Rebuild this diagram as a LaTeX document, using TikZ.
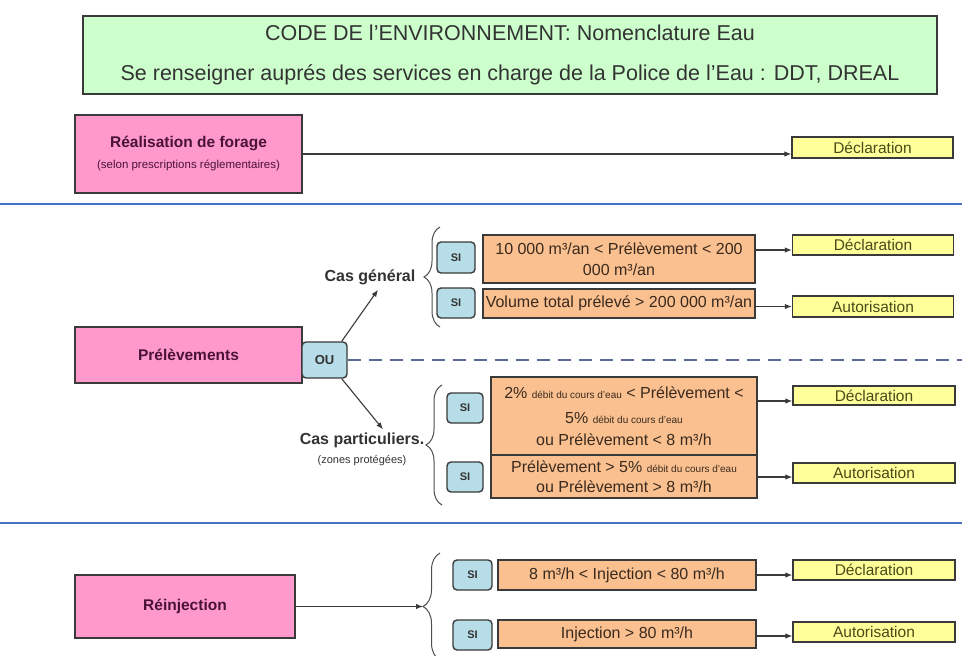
\documentclass[tikz,border=0pt]{standalone}
\usepackage{fontspec}
\setmainfont{Liberation Sans}
\usetikzlibrary{arrows.meta,decorations.pathreplacing,calc}

\definecolor{boxline}{HTML}{3A3A3A}
\definecolor{greenfill}{HTML}{CCFFCC}
\definecolor{pinkfill}{HTML}{FF99CC}
\definecolor{pinktext}{HTML}{4A1238}
\definecolor{sifill}{HTML}{B7DDE8}
\definecolor{orangefill}{HTML}{FAC090}
\definecolor{condtext}{HTML}{3A2A1E}
\definecolor{yellowfill}{HTML}{FFFF99}
\definecolor{restext}{HTML}{4A4A1A}
\definecolor{sepblue}{HTML}{4472C4}
\definecolor{dashblue}{HTML}{5A6A96}
\definecolor{darktext}{HTML}{333333}

\newcommand{\setfs}[2]{\fontsize{#1}{#2}\selectfont}
\newcommand{\sml}[1]{{\setfs{10}{11}#1}}

\tikzset{
  box/.style={draw=boxline, line width=1.3pt, inner sep=0pt, align=center},
  titlebox/.style={box, fill=greenfill, text=darktext, minimum width=854pt, minimum height=78pt},
  pinkbox/.style={box, fill=pinkfill, text=pinktext, font=\bfseries\setfs{15.5}{18}},
  sibox/.style={draw=boxline, line width=1.4pt, fill=sifill, rounded corners=4pt, inner sep=0pt,
    text=darktext, font=\bfseries\setfs{11}{12}},
  condbox/.style={box, fill=orangefill, text=condtext, font=\setfs{16}{21}},
  resbox/.style={box, fill=yellowfill, text=restext, minimum width=161pt, minimum height=20pt,
    font=\setfs{15.5}{16}},
  caselabel/.style={text=darktext, inner sep=1pt, align=center},
  arr/.style={draw=boxline, line width=1.1pt, -{Latex[length=7pt,width=5.5pt]}},
  sep/.style={draw=sepblue, line width=1.6pt},
  bracestyle/.style={draw=boxline!90, line width=1pt, decorate},
}

\begin{document}
\begin{tikzpicture}[x=1pt,y=-1pt]
\clip (0,0) rectangle (962,656);
\fill[white] (0,0) rectangle (962,656);

% header
\node[titlebox, font=\setfs{21.5}{40}] (title) at (510,55)
  {CODE DE l’ENVIRONNEMENT: Nomenclature Eau\\
   Se renseigner auprés des services en charge de la Police de l’Eau : DDT, DREAL};

% --- forage ---
\node[pinkbox, minimum width=227pt, minimum height=78pt] (real) at (188.5,154)
  {Réalisation de forage\\[3pt]{\mdseries\setfs{11.5}{13}(selon prescriptions réglementaires)}};
\node[resbox, minimum height=21pt] (d0) at (872.5,147.5) {Déclaration};
\draw[arr] (real.east) -- (real.east -| d0.west);

% separators
\coordinate (sepL1) at (0,204);   \coordinate (sepR1) at (962,204);
\coordinate (sepL2) at (0,523);   \coordinate (sepR2) at (962,523);
\draw[sep] (sepL1) -- (sepR1);
\draw[sep] (sepL2) -- (sepR2);

% --- prelevements ---
\node[pinkbox, minimum width=227pt, minimum height=56pt] (prel) at (188.5,355) {Prélèvements};
\node[sibox, minimum width=45pt, minimum height=36pt, font=\bfseries\setfs{13}{14}] (ou) at (324.5,360) {OU};
\coordinate (rightedge) at (962,0);
\draw[dashblue, line width=1.5pt, dash pattern=on 13pt off 8pt] (ou.east) -- (ou.east -| rightedge);

\node[caselabel, font=\bfseries\setfs{16}{18}] (casg) at (370,277) {Cas général};
\node[caselabel, font=\bfseries\setfs{16}{18}] (casp) at (362,440) {Cas particuliers.};
\node[caselabel, font=\setfs{11}{12}] (zones) at (362,461) {(zones protégées)};
\draw[arr] ([xshift=-6pt]ou.north east) -- ($(casg.south)+(8,4)$);
\draw[arr] ([xshift=-6pt]ou.south east) -- ($(casp.north)+(21,-2)$);

% general case
\coordinate (b1top) at (440,227); \coordinate (b1bot) at (440,327);
\draw[bracestyle, decoration={brace, amplitude=16pt}] (b1bot) -- (b1top);
\node[sibox, minimum width=38pt, minimum height=31pt] (si1) at (456,257.5) {SI};
\node[sibox, minimum width=38pt, minimum height=30pt] (si2) at (456,303) {SI};
\node[condbox, minimum width=272pt, minimum height=48pt] (o1) at (619,259)
  {10 000 m³/an < Prélèvement < 200\\000 m³/an};
\node[condbox, minimum width=272pt, minimum height=29pt] (o2) at (619,303.5)
  {Volume total prélevé > 200 000 m³/an};
\node[resbox] (d1) at (873,245) {Déclaration};
\node[resbox, minimum height=21pt] (d2) at (873,306.5) {Autorisation};
\draw[arr] (o1.east |- d1.west) ++(0,5) -- ([yshift=-5pt]d1.west);
\draw[arr] (o2.east |- d2.west) -- (d2.west);

% special cases
\coordinate (b2top) at (442,385); \coordinate (b2bot) at (442,505);
\draw[bracestyle, decoration={brace, amplitude=16pt}] (b2bot) -- (b2top);
\node[sibox, minimum width=36pt, minimum height=30pt] (si3) at (465,408) {SI};
\node[sibox, minimum width=36pt, minimum height=30pt] (si4) at (465,477) {SI};
\node[condbox, minimum width=266pt, minimum height=78pt, font=\setfs{16}{25}] (o3) at (624,416)
  {2\% \sml{débit du cours d’eau} < Prélèvement <\\
   5\% \sml{débit du cours d’eau}\\[-3pt]
   ou Prélèvement < 8 m³/h};
\node[condbox, minimum width=266pt, minimum height=43pt, font=\setfs{16}{19.5}] (o4) at (624,476.5)
  {Prélèvement > 5\% \sml{débit du cours d’eau}\\ou Prélèvement > 8 m³/h};
\node[resbox, minimum width=162pt, minimum height=19pt] (d3) at (874,395.5) {Déclaration};
\node[resbox, minimum width=162pt] (d4) at (874,473) {Autorisation};
\draw[arr] (o3.east |- d3.west) ++(0,5.5) -- ([yshift=-5.5pt]d3.west);
\draw[arr] (o4.east |- d4.west) ++(0,4) -- ([yshift=-4pt]d4.west);

% --- reinjection ---
\node[pinkbox, minimum width=220pt, minimum height=63pt] (rein) at (185,606.5) {Réinjection};
\coordinate (b3top) at (440,553); \coordinate (b3bot) at (440,660);
\draw[bracestyle, decoration={brace, amplitude=17pt}] (b3bot) -- (b3top);
\coordinate (b3tip) at (423,606.5);
\draw[arr] (rein.east) -- (b3tip);
\node[sibox, minimum width=39pt, minimum height=30pt] (si5) at (472.5,575) {SI};
\node[sibox, minimum width=39pt, minimum height=30pt] (si6) at (472.5,635) {SI};
\node[condbox, minimum width=258pt, minimum height=30pt] (o5) at (627,575)
  {8 m³/h < Injection < 80 m³/h};
\node[condbox, minimum width=258pt, minimum height=28pt] (o6) at (627,634)
  {Injection > 80 m³/h};
\node[resbox, minimum width=162pt] (d5) at (874,570) {Déclaration};
\node[resbox, minimum width=162pt] (d6) at (874,632) {Autorisation};
\draw[arr] (o5.east) -- (o5.east -| d5.west);
\draw[arr] (o6.east) ++(0,2) -- ([yshift=-4pt]d6.west);
\end{tikzpicture}
\end{document}
